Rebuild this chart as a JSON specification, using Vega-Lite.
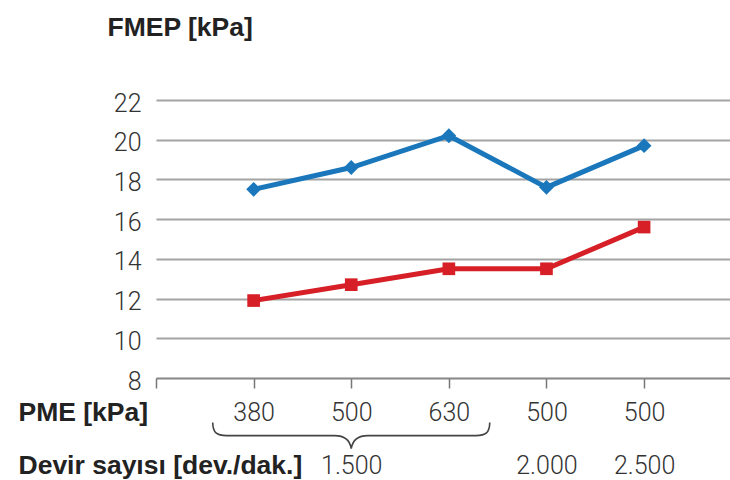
{
  "$schema": "https://vega.github.io/schema/vega-lite/v6.json",
  "width": 574,
  "height": 278,
  "autosize": "none",
  "padding": {"left": 156, "top": 100, "right": 0, "bottom": 102},
  "background": "white",
  "config": {
    "view": {"stroke": null},
    "axis": {
      "labelFont": "Roboto",
      "labelFontWeight": 300,
      "labelFontSize": 25,
      "labelColor": "#333333",
      "titleFont": "Liberation Sans",
      "titleFontWeight": "bold",
      "titleFontSize": 26.5,
      "titleColor": "#222222"
    },
    "axisY": {
      "values": [8, 10, 12, 14, 16, 18, 20, 22],
      "domain": false,
      "ticks": false,
      "labelPadding": 15,
      "labelOffset": 3,
      "grid": true,
      "gridColor": "#a3a3a3",
      "gridWidth": 2,
      "titleAngle": 0,
      "titleX": -49,
      "titleY": -65,
      "titleAlign": "left",
      "titleBaseline": "alphabetic"
    }
  },
  "data": {
    "values": [
      {"pos": 1, "series": "FMEP1", "value": 17.5},
      {"pos": 2, "series": "FMEP1", "value": 18.6},
      {"pos": 3, "series": "FMEP1", "value": 20.2},
      {"pos": 4, "series": "FMEP1", "value": 17.6},
      {"pos": 5, "series": "FMEP1", "value": 19.7},
      {"pos": 1, "series": "FMEP2", "value": 11.9},
      {"pos": 2, "series": "FMEP2", "value": 12.7},
      {"pos": 3, "series": "FMEP2", "value": 13.5},
      {"pos": 4, "series": "FMEP2", "value": 13.5},
      {"pos": 5, "series": "FMEP2", "value": 15.6}
    ]
  },
  "layer": [
    {
      "mark": {"type": "line", "strokeWidth": 5},
      "encoding": {
        "x": {
          "field": "pos",
          "type": "quantitative",
          "scale": {"domain": [0, 5.88], "nice": false, "zero": false},
          "axis": {
            "orient": "bottom",
            "values": [0, 1, 2, 3, 4, 5],
            "labelExpr": "['','380','500','630','500','500'][datum.value]",
            "grid": false,
            "tickSize": 10,
            "tickColor": "#777777",
            "tickWidth": 1.5,
            "domainColor": "#8a8a8a",
            "domainWidth": 1.5,
            "labelBaseline": "alphabetic",
            "labelPadding": 32,
            "labelAlign": "center",
            "labelFlush": false,
            "labelOverlap": false,
            "title": "PME [kPa]",
            "titleX": -138,
            "titleY": 42,
            "titleAlign": "left",
            "titleBaseline": "alphabetic",
            "titleAngle": 0
          }
        },
        "y": {
          "field": "value",
          "type": "quantitative",
          "scale": {"domain": [8, 22], "nice": false, "zero": false},
          "title": "FMEP [kPa]"
        },
        "color": {
          "field": "series",
          "type": "nominal",
          "scale": {"domain": ["FMEP1", "FMEP2"], "range": ["#1a77bb", "#d61f26"]},
          "legend": null
        }
      }
    },
    {
      "mark": {"type": "point", "filled": true, "opacity": 1},
      "encoding": {
        "x": {"field": "pos", "type": "quantitative", "axis": null},
        "y": {"field": "value", "type": "quantitative", "title": "FMEP [kPa]"},
        "color": {
          "field": "series",
          "type": "nominal",
          "scale": {"domain": ["FMEP1", "FMEP2"], "range": ["#1a77bb", "#d61f26"]},
          "legend": null
        },
        "shape": {
          "field": "series",
          "type": "nominal",
          "scale": {"domain": ["FMEP1", "FMEP2"], "range": ["diamond", "square"]},
          "legend": null
        },
        "size": {
          "field": "series",
          "type": "nominal",
          "scale": {"domain": ["FMEP1", "FMEP2"], "range": [220, 160]},
          "legend": null
        }
      }
    },
    {
      "data": {"values": [{"group": "1.500"}]},
      "mark": {
        "type": "point",
        "shape": "M -1 -0.094 C -1 -0.02 -0.97 0 -0.9 0 L -0.12 0 C -0.05 0 -0.01 0.03 0 0.094 C 0.01 0.03 0.05 0 0.12 0 L 0.9 0 C 0.97 0 1 -0.02 1 -0.094",
        "size": 76729,
        "filled": false,
        "stroke": "#444444",
        "strokeWidth": 1.6,
        "opacity": 1
      },
      "encoding": {
        "x": {
          "datum": 2,
          "type": "quantitative",
          "axis": {
            "orient": "bottom",
            "values": [2, 4, 5],
            "labelExpr": "datum.value == 2 ? '1.500' : datum.value == 4 ? '2.000' : '2.500'",
            "domain": false,
            "ticks": false,
            "tickSize": 0,
            "grid": false,
            "labelBaseline": "alphabetic",
            "labelPadding": 95,
            "labelAlign": "center",
            "labelFlush": false,
            "labelOverlap": false,
            "title": "Devir sayısı [dev./dak.]",
            "titleX": -138,
            "titleY": 95,
            "titleAlign": "left",
            "titleBaseline": "alphabetic",
            "titleAngle": 0
          }
        },
        "y": {"datum": 5.1, "type": "quantitative", "title": "FMEP [kPa]"}
      }
    }
  ],
  "resolve": {"axis": {"x": "independent"}}
}
